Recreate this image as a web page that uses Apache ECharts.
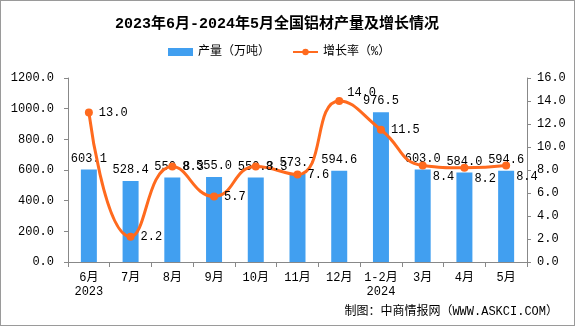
<!DOCTYPE html>
<html>
<head>
<meta charset="utf-8">
<script src="https://cdn.jsdelivr.net/npm/echarts@6/dist/echarts.min.js"></script>
<style>
  html, body { margin: 0; padding: 0; background: #fff; }
  #chart { width: 573px; height: 324px; border: 1px solid #9a9a9a; }
</style>
</head>
<body>
<div id="chart"></div>
<script>
// Monthly aluminium product output (10k tonnes) and year-on-year growth (%)
const categories = ['6月\n2023', '7月', '8月', '9月', '10月', '11月', '12月', '1-2月\n2024', '3月', '4月', '5月'];
const output = [603.1, 528.4, 550.8, 555.0, 550.3, 573.7, 594.6, 976.5, 603.0, 584.0, 594.6];
const growth = [13.0, 2.2, 8.3, 5.7, 8.3, 7.6, 14.0, 11.5, 8.4, 8.2, 8.4];

const FONT = "'Liberation Mono', 'Noto Sans CJK SC', monospace";

// growth labels: nudge the peak label up and the last three below the line
const growthLabelOffset = i => (i === 6 ? [-2, -8] : i >= 8 ? [0, 11] : [0, 0]);
const growthData = growth.map((v, i) => ({
  value: v,
  label: { offset: growthLabelOffset(i) }
}));

const chart = echarts.init(document.getElementById('chart'));

chart.setOption({
  animation: false,
  textStyle: { fontFamily: FONT },
  title: {
    text: '2023年6月-2024年5月全国铝材产量及增长情况',
    left: 109,
    top: 11,
    textStyle: { fontSize: 15, fontWeight: 'bold', color: '#000', fontFamily: FONT }
  },
  legend: {
    top: 40,
    left: 162,
    itemGap: 22,
    itemWidth: 25,
    itemHeight: 8,
    textStyle: { fontSize: 12, color: '#000', fontFamily: FONT },
    data: [
      { name: '产量（万吨）', icon: 'rect' },
      { name: '增长率（%）' }
    ]
  },
  grid: { left: 67, right: 47, top: 77, bottom: 63 },
  xAxis: {
    type: 'category',
    data: categories,
    axisLine: { lineStyle: { color: '#888' } },
    axisTick: { show: true, length: 5, lineStyle: { color: '#888' } },
    axisLabel: { interval: 0, color: '#000', fontSize: 12, margin: 9, lineHeight: 14, fontFamily: FONT }
  },
  yAxis: [
    {
      type: 'value',
      min: 0, max: 1200, interval: 200,
      splitLine: { show: false },
      axisLine: { show: true, lineStyle: { color: '#888' } },
      axisTick: { show: true, length: 4, lineStyle: { color: '#888' } },
      axisLabel: { color: '#000', fontSize: 12, margin: 14, fontFamily: FONT,
        formatter: v => v.toFixed(1) }
    },
    {
      type: 'value',
      min: 0, max: 16, interval: 2,
      splitLine: { show: false },
      axisLine: { show: true, lineStyle: { color: '#888' } },
      axisTick: { show: true, length: 4, lineStyle: { color: '#888' } },
      axisLabel: { color: '#000', fontSize: 12, margin: 10, fontFamily: FONT,
        formatter: v => v.toFixed(1) }
    }
  ],
  series: [
    {
      name: '产量（万吨）',
      type: 'bar',
      data: output,
      barWidth: 16,
      itemStyle: { color: '#419FF0' },
      label: {
        show: true, position: 'top', distance: 5,
        color: '#000', fontSize: 12, fontFamily: FONT,
        formatter: p => p.value.toFixed(1)
      }
    },
    {
      name: '增长率（%）',
      type: 'line',
      yAxisIndex: 1,
      data: growthData,
      smooth: true,
      symbol: 'circle',
      symbolSize: 8,
      lineStyle: { color: '#FF6A1E', width: 3 },
      itemStyle: { color: '#FF6A1E' },
      label: {
        show: true, position: 'right', distance: 6,
        color: '#000', fontSize: 12, fontFamily: FONT,
        formatter: p => p.value.toFixed(1)
      },
      z: 3
    }
  ],
  graphic: [
    {
      type: 'text',
      right: 16,
      top: 305,
      style: {
        text: '制图：中商情报网（WWW.ASKCI.COM）',
        fill: '#000',
        font: "12px 'Liberation Mono', 'Noto Sans CJK SC', monospace"
      }
    }
  ]
});
</script>
</body>
</html>
